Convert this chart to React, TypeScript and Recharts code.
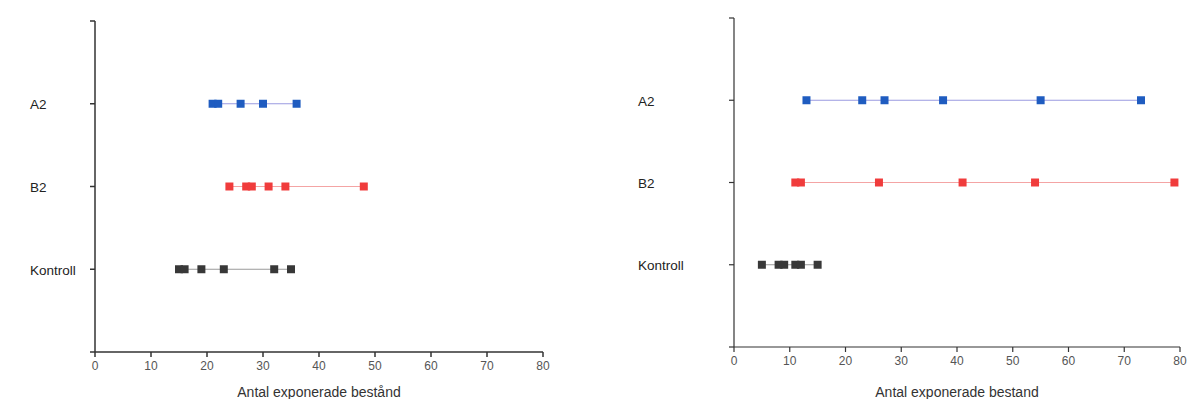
import React from "react";
import {
  ScatterChart,
  Scatter,
  XAxis,
  YAxis,
  ZAxis,
  Label,
} from "recharts";

// categories bottom -> top (y = index + 1)
const categories = ["Kontroll", "B2", "A2"];
const xTicks = [0, 10, 20, 30, 40, 50, 60, 70, 80];
const yTicks = [0, 1, 2, 3, 4];

// left panel
const leftA2 = [21, 22, 26, 30, 36];
const leftB2 = [24, 27, 28, 31, 34, 48];
const leftKontroll = [15, 16, 19, 23, 32, 35];

// right panel
const rightA2 = [13, 23, 27, 37.5, 55, 73];
const rightB2 = [11, 12, 26, 41, 54, 79];
const rightKontroll = [5, 8, 9, 11, 12, 15];

const toPoints = (xs: number[], cat: string) =>
  xs.map((x) => ({ x, y: categories.indexOf(cat) + 1 }));

const colors = {
  A2: { fill: "#1f5cc0", line: "#9a9ae0" },
  B2: { fill: "#f03c3c", line: "#f4a4a4" },
  Kontroll: { fill: "#383838", line: "#9a9a9a" },
};

const CategoryTick = ({ y, payload, labelX }: any) => {
  const v = payload.value;
  const text = v >= 1 && v <= 3 ? categories[v - 1] : "";
  return (
    <text
      x={labelX}
      y={y}
      dy="0.4em"
      textAnchor="start"
      fill="#222"
      fontSize={13.5}
      fontFamily="Liberation Sans, Arial, sans-serif"
    >
      {text}
    </text>
  );
};

const NumberTick = ({ x, y, payload }: any) => (
  <text
    x={x}
    y={y}
    dy="0.75em"
    textAnchor="middle"
    fill="#555"
    fontSize={12}
    fontFamily="Liberation Sans, Arial, sans-serif"
  >
    {payload.value}
  </text>
);

type PanelProps = {
  a2: number[];
  b2: number[];
  kontroll: number[];
  width: number;
  yWidth: number;
  right: number;
  top: number;
  xHeight: number;
  labelX: number;
  xLabel: string;
  axisWidth: number;
};

const Panel = (p: PanelProps) => (
  <ScatterChart
    width={p.width}
    height={399}
    margin={{ top: p.top, right: p.right, bottom: 0, left: 0 }}
  >
    <XAxis
      type="number"
      dataKey="x"
      domain={[0, 80]}
      ticks={xTicks}
      interval={0}
      tickSize={5}
      tickMargin={4}
      stroke="#333"
      strokeWidth={p.axisWidth}
      height={p.xHeight}
      tick={<NumberTick />}
    >
      <Label
        value={p.xLabel}
        position="insideBottom"
        offset={2}
        fill="#333"
        fontSize={14}
        fontFamily="Liberation Sans, Arial, sans-serif"
      />
    </XAxis>
    <YAxis
      type="number"
      dataKey="y"
      domain={[0, 4]}
      ticks={yTicks}
      interval={0}
      width={p.yWidth}
      tickSize={5}
      stroke="#333"
      strokeWidth={p.axisWidth}
      tick={<CategoryTick labelX={p.labelX} />}
    />
    <ZAxis range={[56, 56]} />
    <Scatter
      data={toPoints(p.a2, "A2")}
      fill={colors.A2.fill}
      shape="square"
      line={{ stroke: colors.A2.line, strokeWidth: 1.2 }}
      isAnimationActive={false}
    />
    <Scatter
      data={toPoints(p.b2, "B2")}
      fill={colors.B2.fill}
      shape="square"
      line={{ stroke: colors.B2.line, strokeWidth: 1.2 }}
      isAnimationActive={false}
    />
    <Scatter
      data={toPoints(p.kontroll, "Kontroll")}
      fill={colors.Kontroll.fill}
      shape="square"
      line={{ stroke: colors.Kontroll.line, strokeWidth: 1.2 }}
      isAnimationActive={false}
    />
  </ScatterChart>
);

export default function App() {
  return (
    <div
      style={{
        position: "absolute",
        left: 0,
        top: 0,
        width: 1189,
        height: 399,
        background: "#fff",
        overflow: "hidden",
      }}
    >
      <div style={{ position: "absolute", left: 0, top: 0 }}>
        <Panel
          a2={leftA2}
          b2={leftB2}
          kontroll={leftKontroll}
          width={600}
          yWidth={95}
          right={57}
          top={21}
          xHeight={47}
          labelX={30}
          xLabel="Antal exponerade bestånd"
          axisWidth={1.5}
        />
      </div>
      <div style={{ position: "absolute", left: 600, top: 0 }}>
        <Panel
          a2={rightA2}
          b2={rightB2}
          kontroll={rightKontroll}
          width={589}
          yWidth={134}
          right={9}
          top={18}
          xHeight={52}
          labelX={38}
          xLabel="Antal exponerade bestand"
          axisWidth={1.2}
        />
      </div>
    </div>
  );
}
